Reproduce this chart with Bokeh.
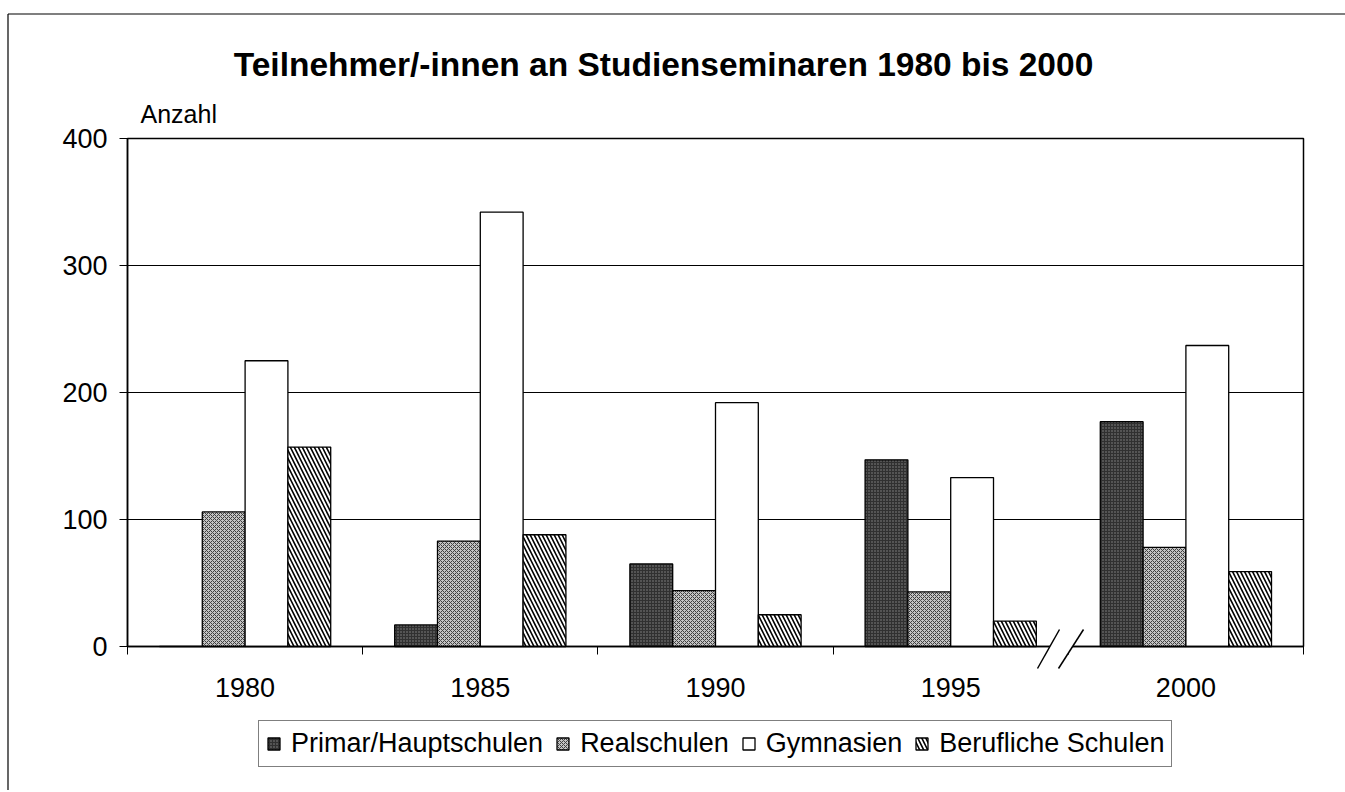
from bokeh.plotting import figure
from bokeh.models import (ColumnDataSource, FixedTicker, Legend, LegendItem, Label,
                          PolyAnnotation, BoxAnnotation, Range1d)
from bokeh.transform import dodge
from bokeh.embed import file_html
from bokeh.resources import INLINE

# ---------------- data ----------------
years = ["1980", "1985", "1990", "1995", "2000"]
primar = [0, 17, 65, 147, 177]
real = [106, 83, 44, 43, 78]
gym = [225, 342, 192, 133, 237]
beruf = [157, 88, 25, 20, 59]
series_names = ["Primar/Hauptschulen", "Realschulen", "Gymnasien", "Berufliche Schulen"]
y_ticks = [0, 100, 200, 300, 400]
y_max = 400
title_text = "Teilnehmer/-innen an Studienseminaren 1980 bis 2000"
y_title = "Anzahl"

# ---------------- layout constants (canvas px) ----------------
FONT = "Liberation Sans"
CW, CH = 1345, 790                      # canvas = frame
AREA_L, AREA_R, AREA_T, AREA_B = 127, 1303, 138, 646   # plot area inside the canvas
n = len(years)
ppx = (AREA_R - AREA_L) / n             # px per category
ppy = (AREA_B - AREA_T) / y_max         # px per unit


def sx(px):
    return px


def sy(py):
    return CH - py


pos = [i + 0.5 for i in range(n)]
src = ColumnDataSource(dict(pos=pos, primar=primar, real=real, gym=gym, beruf=beruf))

p = figure(frame_width=CW, frame_height=CH,
           x_range=Range1d(-AREA_L / ppx, (CW - AREA_L) / ppx),
           y_range=Range1d(-(CH - AREA_B) / ppy, y_max + AREA_T / ppy),
           output_backend="svg", toolbar_location=None,
           min_border=0, min_border_left=0, min_border_right=0,
           min_border_top=0, min_border_bottom=0)
p.background_fill_color = "white"
p.border_fill_color = "white"
p.outline_line_color = None

# y axis at x = 0
yt = FixedTicker(ticks=y_ticks)
p.yaxis.ticker = yt
p.yaxis.fixed_location = 0
p.yaxis.bounds = (0, y_max)
p.ygrid.ticker = yt
p.ygrid.cross_bounds = (0, n)
p.ygrid.grid_line_color = "black"
p.ygrid.grid_line_width = 1
p.xgrid.visible = False
p.yaxis.axis_line_color = "black"
p.yaxis.axis_line_width = 1.5
p.yaxis.major_tick_out = 8
p.yaxis.major_tick_in = 0
p.yaxis.major_tick_line_color = "black"
p.yaxis.minor_tick_line_color = None
p.yaxis.major_label_standoff = 12
p.yaxis.major_label_text_font = FONT
p.yaxis.major_label_text_font_size = "27px"
p.yaxis.major_label_text_color = "black"

# x axis at y = 0: labels at category centres, tick marks at category borders
p.xaxis.ticker = FixedTicker(ticks=pos, minor_ticks=list(range(n + 1)))
p.xaxis.fixed_location = 0
p.xaxis.bounds = (0, n)
p.xaxis.major_label_overrides = {x: y for x, y in zip(pos, years)}
p.xaxis.axis_line_color = "black"
p.xaxis.axis_line_width = 1.5
p.xaxis.major_tick_line_color = None
p.xaxis.major_tick_out = 8
p.xaxis.major_tick_in = 0
p.xaxis.minor_tick_line_color = "black"
p.xaxis.minor_tick_out = 8
p.xaxis.minor_tick_in = 0
p.xaxis.major_label_standoff = 23
p.xaxis.major_label_text_font = FONT
p.xaxis.major_label_text_font_size = "27px"
p.xaxis.major_label_text_color = "black"

# plot-area box
p.add_layout(BoxAnnotation(left=0, right=n, bottom=0, top=y_max, fill_color=None, fill_alpha=0,
                           line_color="black", line_alpha=1, line_width=1.5, level="underlay"))

# bars
w = 0.182
offs = [-0.273, -0.091, 0.091, 0.273]
r1 = p.vbar(x=dodge("pos", offs[0]), top="primar", width=w, source=src,
            fill_color="#303030", line_color="black", line_width=1.3,
            hatch_pattern="dot", hatch_color="#8a8a8a", hatch_scale=3, hatch_weight=1)
r2 = p.vbar(x=dodge("pos", offs[1]), top="real", width=w, source=src,
            fill_color="#c4c4c4", line_color="black", line_width=1.3,
            hatch_pattern="diagonal_cross", hatch_color="#404040", hatch_scale=4, hatch_weight=1)
r3 = p.vbar(x=dodge("pos", offs[2]), top="gym", width=w, source=src,
            fill_color="white", line_color="black", line_width=1.3)
r4 = p.vbar(x=dodge("pos", offs[3]), top="beruf", width=w, source=src,
            fill_color="white", line_color="black", line_width=1.3,
            hatch_pattern="left_diagonal_line", hatch_color="black", hatch_scale=8, hatch_weight=1.6)

# outer chart-area frame: only its left and top edges lie inside the window
for (x0, y0, x1, y1) in [(7.5, 13.5, CW, 13.5), (7.5, 13.5, 7.5, CH)]:
    p.add_layout(PolyAnnotation(xs=[sx(x0), sx(x1)], ys=[sy(y0), sy(y1)],
                                xs_units="screen", ys_units="screen",
                                fill_color=None, fill_alpha=0,
                                line_color="black", line_alpha=1, line_width=1.2))

# axis break marks between 1995 and 2000
p.add_layout(PolyAnnotation(xs=[sx(1037), sx(1059), sx(1083), sx(1058)],
                            ys=[sy(668), sy(629), sy(629), sy(668)],
                            xs_units="screen", ys_units="screen",
                            fill_color="white", fill_alpha=1, line_color=None))
for (x0, y0, x1, y1) in [(1037, 668, 1059, 629), (1058, 668, 1083, 629)]:
    p.add_layout(PolyAnnotation(xs=[sx(x0), sx(x1)], ys=[sy(y0), sy(y1)],
                                xs_units="screen", ys_units="screen",
                                fill_color=None, fill_alpha=0,
                                line_color="black", line_alpha=1, line_width=1.5))

# title and axis caption
p.add_layout(Label(x=sx(663), y=sy(64), x_units="screen", y_units="screen", text=title_text,
                   text_align="center", text_baseline="middle", text_font=FONT,
                   text_font_size="33.5px", text_font_style="bold", text_color="black"))
p.add_layout(Label(x=sx(140), y=sy(113), x_units="screen", y_units="screen", text=y_title,
                   text_align="left", text_baseline="middle", text_font=FONT,
                   text_font_size="25px", text_color="black"))

# legend
legend = Legend(items=[LegendItem(label=nm, renderers=[r]) for nm, r in zip(series_names, [r1, r2, r3, r4])],
                location=(sx(258), sy(767)), orientation="horizontal",
                label_text_font=FONT, label_text_font_size="27px", label_text_color="black",
                glyph_width=15, glyph_height=15, label_standoff=10, spacing=12,
                padding=7, margin=0, border_line_color="black", border_line_width=1.2,
                background_fill_color="white", background_fill_alpha=1)
p.add_layout(legend, "center")

open("out.html", "w").write(file_html(p, INLINE))
